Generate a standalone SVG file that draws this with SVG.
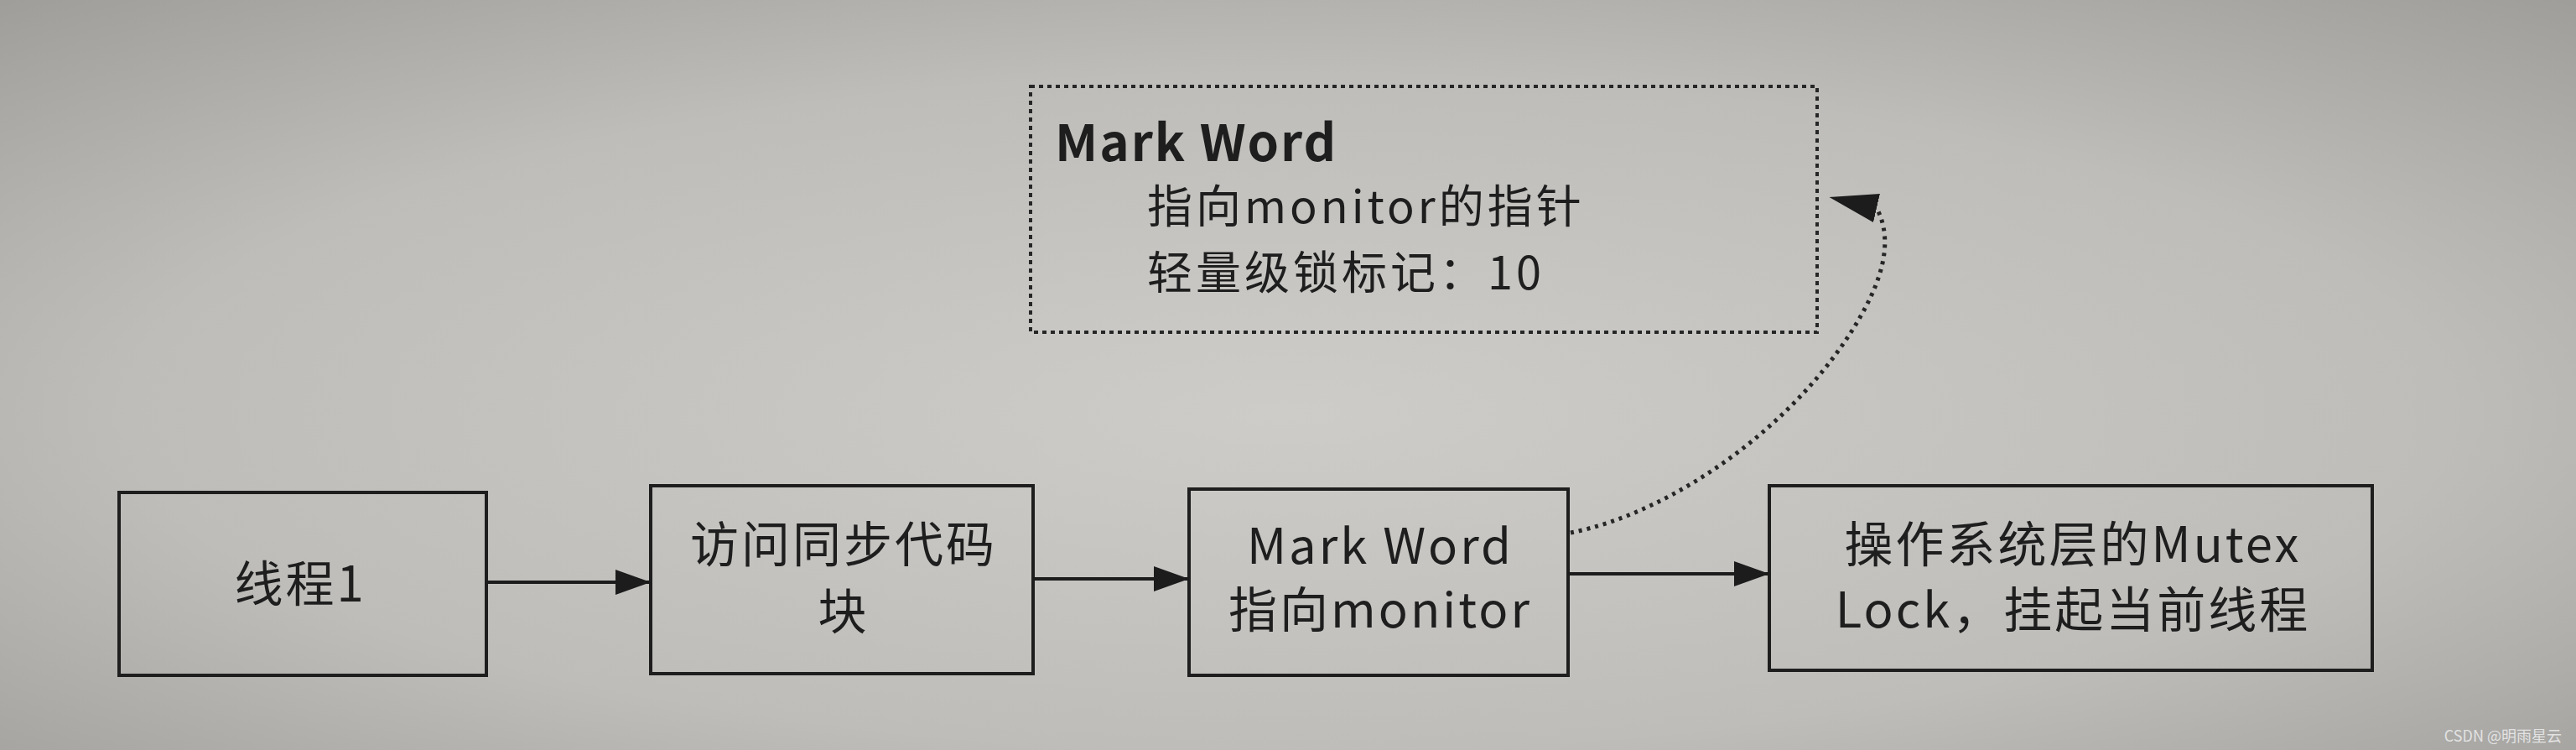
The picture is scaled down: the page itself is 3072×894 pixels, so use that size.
<svg xmlns="http://www.w3.org/2000/svg" width="3072" height="894" viewBox="0 0 3072 894">
<defs>
  <radialGradient id="paper" cx="0.5" cy="0.55" r="0.75">
    <stop offset="0" stop-color="#cdccc9"/>
    <stop offset="0.6" stop-color="#bebdba"/>
    <stop offset="1" stop-color="#9e9d9a"/>
  </radialGradient>
  <marker id="arrow" markerUnits="userSpaceOnUse" markerWidth="44" markerHeight="32" refX="42" refY="15" orient="auto">
    <path d="M0,0 L42,15 L0,30 z" fill="#1c1c1c"/>
  </marker>
  <marker id="curveHead" markerUnits="userSpaceOnUse" markerWidth="60" markerHeight="36" refX="0" refY="17.5" orient="193">
    <path d="M0,0 L58,17.5 L0,35 z" fill="#1c1c1c"/>
  </marker>
  <style>
    .box { fill: none; stroke: #1e1e1e; stroke-width: 4; }
    .note { fill: none; stroke: #262626; stroke-width: 4; stroke-dasharray: 5 5; }
    .t { font-family: "Noto Sans CJK SC", "Noto Sans", sans-serif; font-size: 58px; fill: #1e1e1e; letter-spacing: 3px; }
    .s { font-size: 54px; letter-spacing: 4px; }
    .c { text-anchor: middle; }
    .b { font-weight: bold; font-size: 60px; letter-spacing: 2px; }
    .line { fill: none; stroke: #1c1c1c; stroke-width: 4; marker-end: url(#arrow); }
    .dotted { fill: none; stroke: #262626; stroke-width: 5; stroke-dasharray: 4 6; marker-end: url(#curveHead); }
    .wm { font-family: "Noto Sans CJK SC", "Noto Sans", sans-serif; font-size: 18px; fill: #e2e2e2; }
  </style>
</defs>
<rect x="0" y="0" width="3072" height="894" fill="url(#paper)"/>

<g id="note-markword">
  <rect class="note" x="1229" y="103" width="938" height="293"/>
  <text class="t b" x="1258" y="192">Mark Word</text>
  <text class="t s" x="1368" y="266">指向monitor的指针</text>
  <text class="t s" x="1368" y="345">轻量级锁标记：10</text>
</g>

<g id="node-thread1">
  <rect class="box" x="142" y="587" width="438" height="218"/>
  <text class="t c" x="358" y="717">线程1</text>
</g>

<g id="node-sync-block">
  <rect class="box" x="776" y="579" width="456" height="224"/>
  <text class="t c" x="1006" y="670">访问同步代码</text>
  <text class="t c" x="1006" y="750">块</text>
</g>

<g id="node-markword">
  <rect class="box" x="1418" y="583" width="452" height="222"/>
  <text class="t c" x="1646" y="672">Mark Word</text>
  <text class="t c" x="1646" y="748">指向monitor</text>
</g>

<g id="node-mutex">
  <rect class="box" x="2110" y="579" width="719" height="220"/>
  <text class="t c" x="2472" y="670">操作系统层的Mutex</text>
  <text class="t c" x="2472" y="748">Lock，挂起当前线程</text>
</g>

<g id="connectors">
  <line class="line" x1="580" y1="694" x2="776" y2="694"/>
  <line class="line" x1="1232" y1="690" x2="1418" y2="690"/>
  <line class="line" x1="1870" y1="684" x2="2110" y2="684"/>
  <path class="dotted" d="M1873,635 C2000,610 2150,500 2220,375 C2255,313 2252,275 2238,248"/>
</g>

<text class="wm" x="3055" y="884" text-anchor="end">CSDN @明雨星云</text>
</svg>
